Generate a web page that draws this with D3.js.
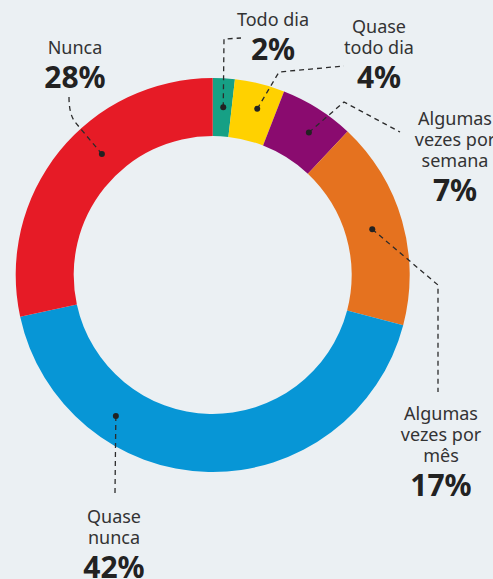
<!DOCTYPE html>
<html>
<head>
<meta charset="utf-8">
<script src="https://cdn.jsdelivr.net/npm/d3@7"></script>
<style>
  html, body { margin: 0; padding: 0; background: #ebf0f3; }
  svg { display: block; }
  .lbl { font-family: "Noto Sans", sans-serif; font-size: 18px; fill: #333; }
  .pct { font-family: "Noto Sans", sans-serif; font-size: 30px; font-weight: 700; fill: #222; }
</style>
</head>
<body>
<div id="chart"></div>
<script>
const width = 493;
const height = 579;

// dados
const categories = ["Todo dia", "Quase todo dia", "Algumas vezes por semana", "Algumas vezes por mês", "Quase nunca", "Nunca"];
// percentuais impressos
const values = [2, 4, 7, 17, 42, 28];
// tamanho das fatias como desenhadas (estimado da figura)
const shares = [1.8, 4.1, 6.1, 17.1, 42.5, 28.4];
const colors = ["#16a085", "#ffd100", "#8a0b6f", "#e5721f", "#0796d6", "#e61b26"];

// rótulos: linhas de texto e posição
const labelLines = [
  ["Todo dia"],
  ["Quase", "todo dia"],
  ["Algumas", "vezes por", "semana"],
  ["Algumas", "vezes por", "mês"],
  ["Quase", "nunca"],
  ["Nunca"]
];
const labelPos = [
  { x: 273, y: 26 },
  { x: 379, y: 33 },
  { x: 455, y: 125 },
  { x: 441, y: 420 },
  { x: 114, y: 523 },
  { x: 75, y: 54 }
];
// ângulo (graus) e raio do ponto dentro da fatia
const dotAngle = [3.6, 15, 34, 74, 214.5, 317.5];
const dotRadius = [168, 172, 172, 166, 171, 164];
// pontos de quebra das linhas tracejadas
const leaderPts = [
  [[224, 39], [241, 38]],
  [[279, 72], [344, 66]],
  [[344, 102], [400, 132]],
  [[438, 285], [438, 392]],
  [[115, 493]],
  [[75, 122], [69, 97]]
];

const cx = 212.7, cy = 275;
const outerR = 197, innerR = 139;

const svg = d3.select("#chart")
  .append("svg")
  .attr("width", width)
  .attr("height", height);

const g = svg.append("g").attr("transform", `translate(${cx},${cy})`);

const pie = d3.pie().sort(null).value(d => d);
const arc = d3.arc().innerRadius(innerR).outerRadius(outerR);

g.selectAll("path.slice")
  .data(pie(shares))
  .enter()
  .append("path")
  .attr("class", "slice")
  .attr("d", arc)
  .attr("fill", (d, i) => colors[i]);

// pontos e linhas
const rad = a => a * Math.PI / 180;
const dots = dotAngle.map((a, i) => [cx + dotRadius[i] * Math.sin(rad(a)), cy - dotRadius[i] * Math.cos(rad(a))]);

categories.forEach((c, i) => {
  const pts = [dots[i]].concat(leaderPts[i]);
  let d;
  if (i === 5) {
    // Nunca: curva suave para cima
    d = `M${pts[0][0]},${pts[0][1]} L${pts[1][0]},${pts[1][1]} Q${pts[2][0]},${pts[1][1] - 8} ${pts[2][0]},${pts[2][1]}`;
  } else {
    d = d3.line()(pts);
  }
  svg.append("path")
    .attr("d", d)
    .attr("fill", "none")
    .attr("stroke", "#2b2b2b")
    .attr("stroke-width", 1.3)
    .attr("stroke-dasharray", "5,4");
  svg.append("circle")
    .attr("cx", dots[i][0])
    .attr("cy", dots[i][1])
    .attr("r", 3)
    .attr("fill", "#222");
});

// textos
categories.forEach((c, i) => {
  const p = labelPos[i];
  const lines = labelLines[i];
  lines.forEach((t, j) => {
    svg.append("text")
      .attr("class", "lbl")
      .attr("x", p.x)
      .attr("y", p.y + j * 21)
      .attr("text-anchor", "middle")
      .text(t);
  });
  svg.append("text")
    .attr("class", "pct")
    .attr("x", p.x)
    .attr("y", p.y + (lines.length - 1) * 21 + 34)
    .attr("text-anchor", "middle")
    .text(values[i] + "%");
});
</script>
</body>
</html>
